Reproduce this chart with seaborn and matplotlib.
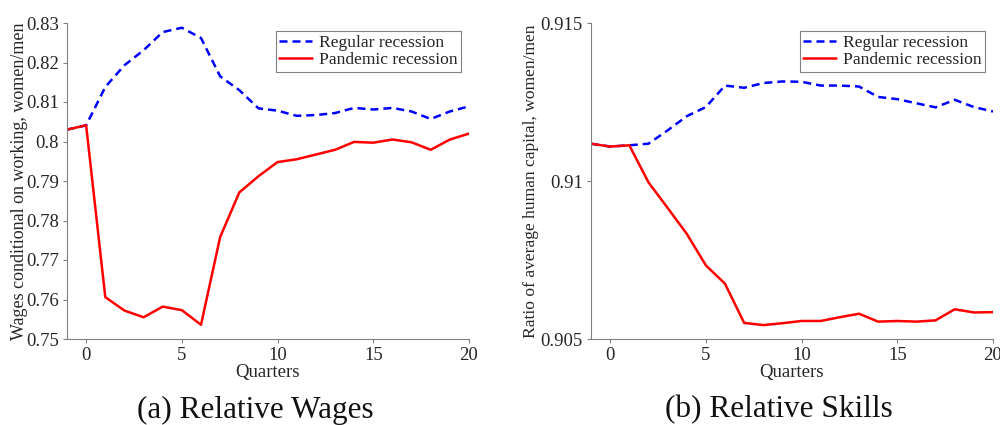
import numpy as np
import pandas as pd
import matplotlib
matplotlib.use("Agg")
import matplotlib.pyplot as plt
import seaborn as sns

quarters = list(range(-1, 21))

wages_regular = [0.8030, 0.8041, 0.8138, 0.8193, 0.8231, 0.8277, 0.8288, 0.8262, 0.8165, 0.8130,
                 0.8084, 0.8078, 0.8065, 0.8067, 0.8072, 0.8085, 0.8081, 0.8085, 0.8076, 0.8057,
                 0.8076, 0.8089]
wages_pandemic = [0.8030, 0.8041, 0.7606, 0.7572, 0.7555, 0.7582, 0.7573, 0.7536, 0.7758, 0.7871,
                  0.7912, 0.7948, 0.7955, 0.7967, 0.7979, 0.7999, 0.7997, 0.8005, 0.7998, 0.7979,
                  0.8005, 0.8020]

skills_regular = [0.91118, 0.91109, 0.91113, 0.91118, 0.91160, 0.91205, 0.91234, 0.91302, 0.91295,
                  0.91310, 0.91315, 0.91314, 0.91302, 0.91302, 0.91299, 0.91266, 0.91259, 0.91246,
                  0.91233, 0.91257, 0.91234, 0.91220]
skills_pandemic = [0.91118, 0.91109, 0.91113, 0.90996, 0.90915, 0.90833, 0.90733, 0.90675, 0.90551,
                   0.90544, 0.90550, 0.90557, 0.90557, 0.90569, 0.90580, 0.90555, 0.90557, 0.90555,
                   0.90559, 0.90594, 0.90584, 0.90585]

series_names = ["Regular recession", "Pandemic recession"]
panel_titles = ["(a) Relative Wages", "(b) Relative Skills"]
ylabels = ["Wages conditional on working, women/men",
           "Ratio of average human capital, women/men"]
xlabel = "Quarters"
wage_ticks = [0.75, 0.76, 0.77, 0.78, 0.79, 0.80, 0.81, 0.82, 0.83]
wage_ticklabels = ["0.75", "0.76", "0.77", "0.78", "0.79", "0.8", "0.81", "0.82", "0.83"]
skill_ticks = [0.905, 0.91, 0.915]
skill_ticklabels = ["0.905", "0.91", "0.915"]
x_ticks = [0, 5, 10, 15, 20]

sns.set_style("ticks")
plt.rcParams['font.family'] = ['Liberation Serif', 'DejaVu Serif']

fig = plt.figure(figsize=(10, 4.25), dpi=100)
W, H = 1000, 425
ax1 = fig.add_axes([67 / W, 1 - 339 / H, (469 - 67) / W, (339 - 23) / H])
ax2 = fig.add_axes([591 / W, 1 - 339 / H, (993 - 591) / W, (339 - 23) / H])

def draw(ax, reg, pan, yticks, yticklabels, ylim, ylabel, ylab_x, ylab_size):
    sns.lineplot(x=quarters, y=reg, ax=ax, color=(0, 0, 1), lw=1.8,
                 label=series_names[0])
    ax.lines[-1].set_dashes([3.2, 2.0])
    sns.lineplot(x=quarters, y=pan, ax=ax, color=(1, 0, 0), lw=1.8,
                 label=series_names[1])
    ax.set_xlim(-1, 20)
    ax.set_ylim(*ylim)
    ax.set_xticks(x_ticks)
    ax.set_yticks(yticks)
    ax.set_yticklabels(yticklabels)
    ax.set_xlabel(xlabel, fontsize=13.5, color="#262626", labelpad=0)
    ax.set_ylabel(ylabel, fontsize=ylab_size, color="#262626")
    ax.yaxis.set_label_coords(ylab_x, 0.5)
    ax.tick_params(axis="both", labelsize=13.5, colors="#262626", length=3,
                   direction="out", color="#808080", pad=3)
    for s in ["top", "right"]:
        ax.spines[s].set_visible(False)
    for s in ["left", "bottom"]:
        ax.spines[s].set_color("#808080")
        ax.spines[s].set_linewidth(0.8)
    leg = ax.legend(loc="upper right", fontsize=12.6, frameon=True, fancybox=False,
                    edgecolor="#808080", framealpha=1, borderpad=0.2,
                    handlelength=1.9, handletextpad=0.4, labelspacing=0.05,
                    borderaxespad=0.2, bbox_to_anchor=(0.99, 0.985))
    leg.get_frame().set_linewidth(0.8)
    for t in leg.get_texts():
        t.set_color("#262626")

draw(ax1, wages_regular, wages_pandemic, wage_ticks, wage_ticklabels, (0.75, 0.83), ylabels[0], -0.098, 13)
draw(ax2, skills_regular, skills_pandemic, skill_ticks, skill_ticklabels, (0.905, 0.915), ylabels[1], -0.13, 12.6)

fig.text(255 / W, 1 - 410 / H, panel_titles[0], ha="center", va="center", fontsize=22.5,
         color="#111111")
fig.text(779 / W, 1 - 410 / H, panel_titles[1], ha="center", va="center", fontsize=22.5,
         color="#111111")

fig.savefig("out.png", dpi=100)
